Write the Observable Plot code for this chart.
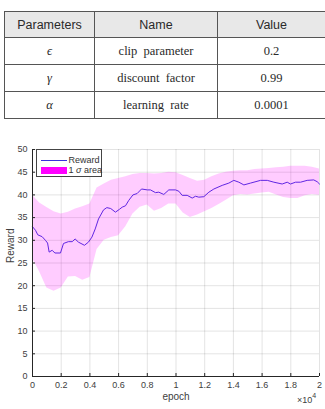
<!DOCTYPE html>
<html>
<head>
<meta charset="utf-8">
<script src="https://cdn.jsdelivr.net/npm/d3@7"></script>
<script src="https://cdn.jsdelivr.net/npm/@observablehq/plot@0.6"></script>
<style>
  html, body { margin: 0; padding: 0; background: #fff; }
  body { position: relative; width: 325px; height: 409px; overflow: hidden; }
  #params {
    position: absolute; left: 4px; top: 11px; width: 318px; height: 104px;
    border-collapse: collapse; border: 1.4px solid #3a3a3a; table-layout: fixed;
  }
  #params th, #params td {
    border: 1px solid #555; text-align: center; padding: 0; color: #2a2a2a;
  }
  #params th {
    font: 12.5px "Liberation Sans", Arial, sans-serif; background: #e8e8e8; height: 25px;
  }
  #params td {
    font: 12.5px "Liberation Serif", "Times New Roman", serif; word-spacing: 3px; height: 26px;
  }
  #params td.sym { font-style: italic; }
  #chart { position: absolute; left: 0; top: 130px; }
  #legend {
    position: absolute; left: 36px; top: 149px; width: 64px; height: 26px;
    background: #fff; border: 0.8px solid #444;
    font: 9px "Liberation Sans", Arial, sans-serif; color: #333;
  }
  #legend .row {
    position: absolute; left: 0; height: 10px; display: flex; align-items: center;
    white-space: nowrap;
  }
  #legend .swatch-line { flex: none; width: 26px; height: 0; border-top: 1px solid #3a30dc; margin-left: 4px; margin-right: 1.5px; }
  #legend .swatch-fill { flex: none; width: 26px; height: 7px; background: #ff00ff; margin-left: 4px; margin-right: 1.5px; }
  #scale-note {
    position: absolute; left: 297px; top: 393px;
    font: 9px "Liberation Sans", Arial, sans-serif; color: #404040;
  }
  #scale-note sup { font-size: 7px; position: relative; top: -1px; }
</style>
</head>
<body>
<table id="params"></table>
<div id="chart"></div>
<div id="legend"></div>
<div id="scale-note">×10<sup>4</sup></div>
<script>
// PPO hyper-parameters
const tableHeader = ["Parameters", "Name", "Value"];
const paramSymbols = ["ϵ", "γ", "α"];
const paramNames = ["clip parameter", "discount factor", "learning rate"];
const paramValues = ["0.2", "0.99", "0.0001"];

// Mean reward per training epoch
const rewardEpoch = [0, 210, 370, 670, 900, 1050, 1160, 1370, 1560, 1950, 2160, 2500, 2770, 2970, 3200,
  3620, 3900, 4140, 4370, 4600, 4950, 5180, 5450, 5780, 6050, 6250, 6480, 6710, 7000, 7290, 7600,
  8000, 8220, 8570, 8800, 9150, 9500, 9970, 10200, 10430, 10780, 11130, 11360, 11590, 11940, 12290,
  12640, 13220, 13680, 14030, 14380, 14730, 15190, 15890, 16360, 16820, 17400, 17750, 17980, 18330,
  18680, 19140, 19600, 19840, 20000];
const rewardMean = [33.0, 32.2, 31.2, 30.8, 30.0, 29.4, 27.4, 27.8, 27.2, 27.2, 29.3, 29.7, 29.7, 30.3, 29.6,
  28.9, 29.6, 30.7, 32.5, 34.7, 36.7, 37.2, 37.0, 36.2, 36.8, 37.3, 37.6, 38.8, 40.0, 40.3, 41.3,
  41.1, 41.1, 40.5, 40.6, 40.1, 41.1, 41.1, 40.8, 39.9, 39.9, 39.3, 39.7, 39.5, 39.6, 40.6,
  41.3, 42.1, 42.6, 43.2, 42.8, 42.2, 42.6, 43.2, 43.2, 42.8, 42.4, 42.8, 42.4, 42.8,
  42.8, 43.2, 43.3, 42.9, 42.4];

// One standard deviation band around the mean
const bandEpoch = [0, 500, 1000, 1500, 2000, 2500, 3000, 3500, 4000, 4500, 5000, 5500, 6000, 6500,
  7000, 7500, 8000, 8500, 9000, 9500, 10000, 10500, 11000, 11500, 12000, 12500, 13000, 13500,
  14000, 14500, 15000, 15500, 16000, 16500, 17000, 17500, 18000, 18500, 19000, 19500, 20000];
const bandLower = [26.0, 23.0, 19.5, 18.8, 19.5, 21.9, 22.0, 21.2, 21.8, 28.0, 30.0, 30.6, 31.0, 33.0,
  35.8, 37.3, 37.8, 36.4, 37.0, 38.0, 38.0, 36.0, 35.0, 35.6, 36.3, 37.0, 37.9, 38.8,
  39.8, 40.1, 40.0, 40.2, 40.4, 40.6, 40.0, 39.4, 39.2, 39.2, 39.8, 40.1, 39.9];
const bandUpper = [39.9, 38.2, 37.2, 36.3, 35.8, 36.2, 36.9, 37.4, 38.0, 41.5, 42.4, 43.2, 43.6, 44.0,
  44.5, 44.7, 44.7, 44.6, 44.7, 45.0, 44.9, 44.3, 43.6, 43.0, 43.2, 44.0, 44.6, 45.0,
  45.2, 45.3, 45.3, 45.6, 45.7, 45.8, 46.0, 46.1, 46.3, 46.3, 46.3, 46.1, 45.7];

const xTicks = [0, 2000, 4000, 6000, 8000, 10000, 12000, 14000, 16000, 18000, 20000];
const yTicks = [0, 5, 10, 15, 20, 25, 30, 35, 40, 45, 50];
const legendLabels = ["Reward", "1 σ area"];

// Parameter table
const table = d3.select("#params");
table.append("tr").selectAll("th").data(tableHeader).join("th").text(d => d);
table.selectAll("tr.body")
  .data(paramSymbols.map((s, i) => [s, paramNames[i], paramValues[i]]))
  .join("tr").attr("class", "body")
  .selectAll("td").data(d => d).join("td")
  .attr("class", (d, i) => i === 0 ? "sym" : null)
  .text(d => d);
d3.selectAll("#params th").style("width", (d, i) => ["89px", "122px", "107px"][i]);

const line = rewardEpoch.map((e, i) => ({epoch: e, reward: rewardMean[i]}));
const band = bandEpoch.map((e, i) => ({epoch: e, lo: bandLower[i], hi: bandUpper[i]}));

const chart = Plot.plot({
  width: 325,
  height: 279,
  marginTop: 19,
  marginBottom: 33,
  marginLeft: 32,
  marginRight: 6,
  x: {domain: [0, 20000]},
  y: {domain: [0, 50]},
  style: {
    fontFamily: "'Liberation Sans', Arial, sans-serif",
    fontSize: "9px",
    color: "#404040",
    background: "transparent",
    overflow: "visible"
  },
  marks: [
    Plot.gridX(xTicks, {stroke: "#000", strokeOpacity: 0.11}),
    Plot.gridY(yTicks, {stroke: "#000", strokeOpacity: 0.11}),
    Plot.line(line, {x: "epoch", y: "reward", stroke: "#3a30dc", strokeWidth: 1}),
    Plot.areaY(band, {x: "epoch", y1: "lo", y2: "hi", fill: "#ff00ff", fillOpacity: 0.2}),
    Plot.ruleX([0], {stroke: "#262626", strokeWidth: 1}),
    Plot.ruleY([0], {stroke: "#262626", strokeWidth: 1}),
    Plot.axisX(xTicks, {tickSize: 3, dy: -3, tickFormat: () => "", label: null, stroke: "#262626"}),
    Plot.axisX(xTicks, {tickSize: 0, tickPadding: 5, tickFormat: d => String(d / 1e4), label: null}),
    Plot.axisY(yTicks, {tickSize: 3, dx: 3, tickFormat: () => "", label: null, stroke: "#262626"}),
    Plot.axisY(yTicks, {tickSize: 0, tickPadding: 5, label: null}),
    Plot.text(["epoch"], {frameAnchor: "bottom", dy: 23, fontSize: 10, fill: "#404040"}),
    Plot.text(["Reward"], {frameAnchor: "left", dx: -22, rotate: -90, fontSize: 10, fill: "#404040"})
  ]
});
document.getElementById("chart").appendChild(chart);

// Legend inside the upper-left corner of the axes
const legend = d3.select("#legend");
const r1 = legend.append("div").attr("class", "row").style("top", "5px");
r1.append("div").attr("class", "swatch-line");
r1.append("span").text(legendLabels[0]);
const r2 = legend.append("div").attr("class", "row").style("top", "15px");
r2.append("div").attr("class", "swatch-fill");
r2.append("span").html(legendLabels[1].replace("σ", "<i>σ</i>"));
</script>
</body>
</html>
